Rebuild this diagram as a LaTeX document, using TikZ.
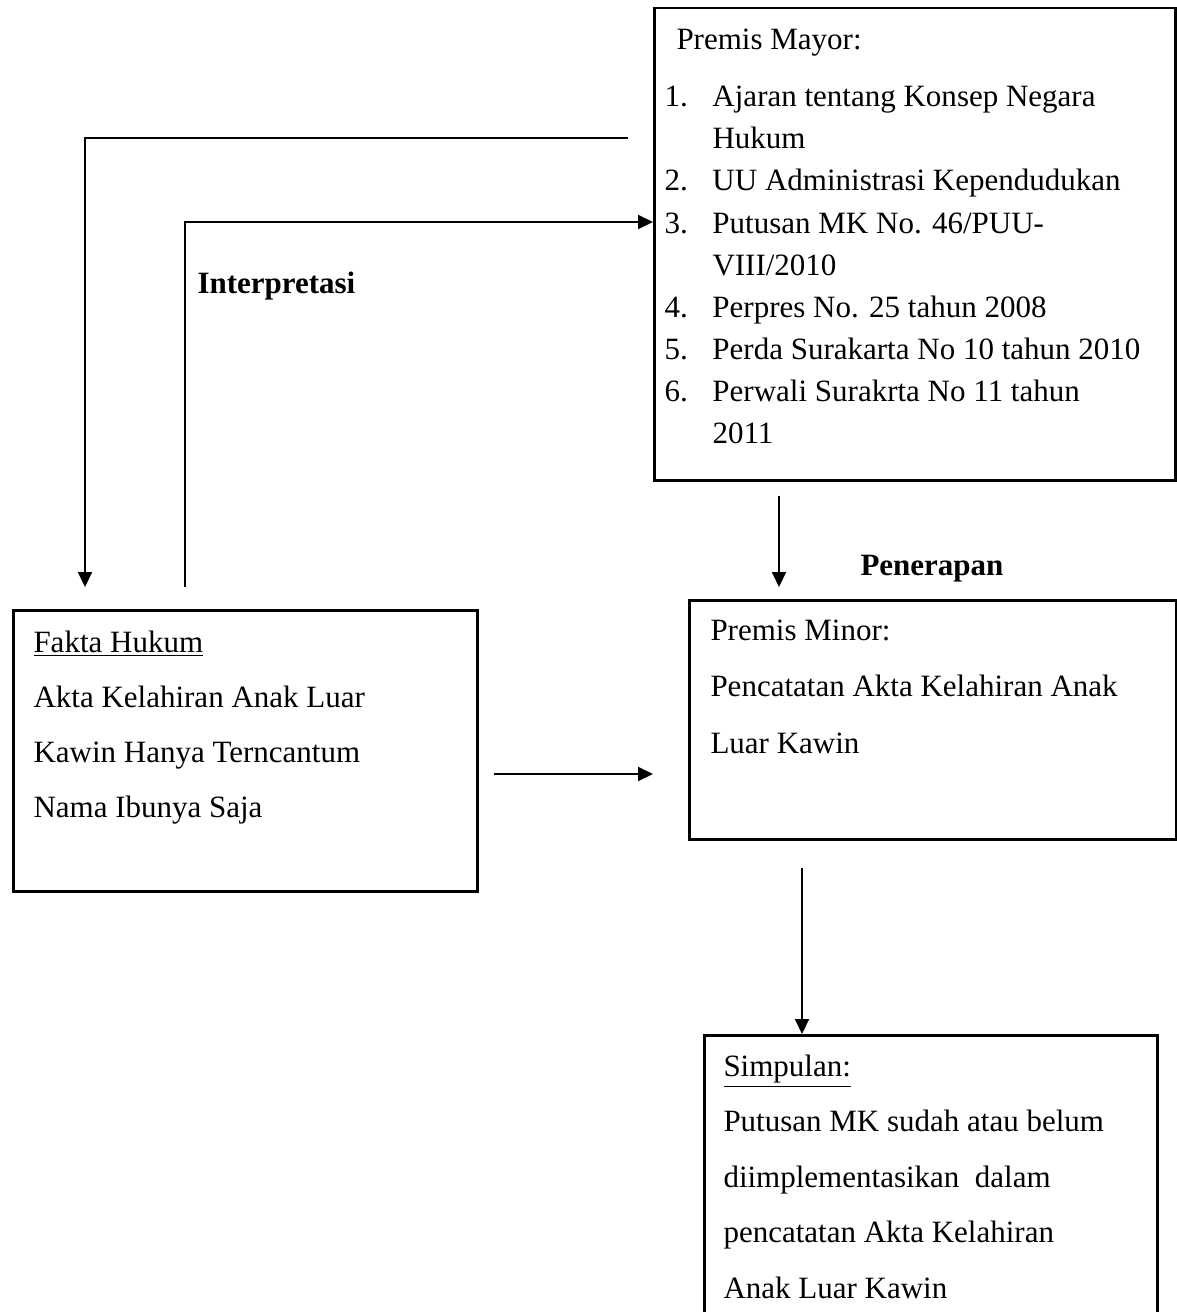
\documentclass[tikz,border=0pt]{standalone}
\usepackage{fontspec}
\setmainfont{Liberation Serif}
\usepackage{tikz}
\usetikzlibrary{arrows.meta}

\newcommand{\boxfont}[1]{\fontsize{12.4pt}{#1}\selectfont}

\begin{document}
\begin{tikzpicture}[
    x=0.4pt, y=-0.4pt,
    boxnode/.style={rectangle, draw, line width=1pt, inner sep=0pt, anchor=north west},
    textnode/.style={inner sep=0pt, anchor=base west},
    flow/.style={-{Triangle[length=6pt,width=5.6pt]}, line width=0.8pt}
]
\useasboundingbox (0,0) rectangle (1176,1312);
\node[boxnode, minimum width=208.4pt, minimum height=188.8pt](mayor) at (653,7){};
\node[boxnode, minimum width=185.6pt, minimum height=112.4pt](fakta) at (12,609){};
\node[boxnode, minimum width=194.8pt, minimum height=95.6pt](minor) at (688,599){};
\node[boxnode, minimum width=181.2pt, minimum height=130pt](simpulan) at (703,1034){};
\node[textnode, font=\boxfont{16.8pt}](mayorhead) at (676,50){Premis Mayor:};
\node[textnode, font=\boxfont{16.8pt}](mayorlist) at (664,107){%
  \begin{tabular}[t]{@{}p{19.2pt}@{}l@{}}
  1. & Ajaran tentang Konsep Negara\\
     & Hukum\\
  2. & UU Administrasi Kependudukan\\
  3. & Putusan MK No. 46/PUU-\\
     & VIII/2010\\
  4. & Perpres No. 25 tahun 2008\\
  5. & Perda Surakarta No 10 tahun 2010\\
  6. & Perwali Surakrta No 11 tahun\\
     & 2011
  \end{tabular}};
\node[textnode, font=\boxfont{22pt}](faktatext) at (33,652){%
  \begin{tabular}[t]{@{}l@{}}
  \underline{Fakta Hukum}\\
  Akta Kelahiran Anak Luar\\
  Kawin Hanya Terncantum\\
  Nama Ibunya Saja
  \end{tabular}};
\node[textnode, font=\boxfont{22.6pt}](minortext) at (710,640){%
  \begin{tabular}[t]{@{}l@{}}
  Premis Minor:\\
  Pencatatan Akta Kelahiran Anak\\
  Luar Kawin
  \end{tabular}};
\node[textnode, font=\boxfont{22.2pt}](simpulantext) at (723,1076){%
  \begin{tabular}[t]{@{}l@{}}
  \underline{Simpulan:}\\
  Putusan MK sudah atau belum\\
  diimplementasikan \ dalam\\
  pencatatan Akta Kelahiran\\
  Anak Luar Kawin
  \end{tabular}};
\node[textnode, font=\boxfont{16.8pt}\bfseries](interpretasi) at (197,293){Interpretasi};
\node[textnode, font=\boxfont{16.8pt}\bfseries](penerapan) at (860,575){Penerapan};
\coordinate (c1) at (85,138);
\coordinate (c2) at (185,222);
\coordinate (c3) at (779,0);
\coordinate (c4) at (0,774);
\coordinate (c5) at (802,0);
\draw[flow, shorten <=10pt, shorten >=8.8pt] (mayor.west |- c1) -- (c1) -- (c1 |- fakta.north);
\draw[flow, shorten <=8.8pt] (c2 |- fakta.north) -- (c2) -- (mayor.west |- c2);
\draw[flow, shorten <=5.6pt, shorten >=4.8pt] (mayor.south -| c3) -- (minor.north -| c3);
\draw[flow, shorten <=6pt, shorten >=14pt] (fakta.east |- c4) -- (minor.west |- c4);
\draw[flow, shorten <=10.8pt] (minor.south -| c5) -- (simpulan.north -| c5);
\end{tikzpicture}
\end{document}
